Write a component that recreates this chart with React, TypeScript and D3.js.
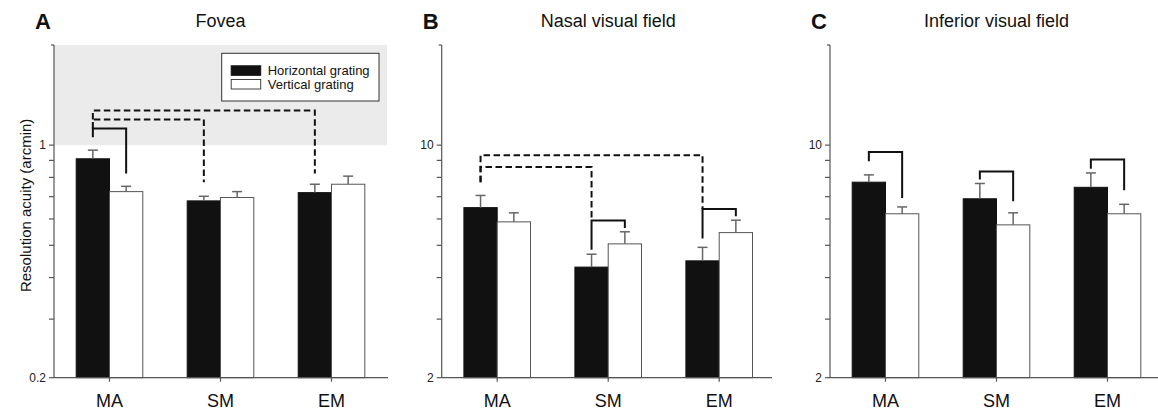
import React, { useEffect, useRef } from 'react';
import * as d3 from 'd3';

const WIDTH = 1158;
const HEIGHT = 410;
const TOP = 45;
const BOTTOM = 377.7;
const FONT = '"Liberation Sans", Arial, sans-serif';

const CATEGORIES = ['MA', 'SM', 'EM'];
const SERIES = ['Horizontal grating', 'Vertical grating'];

// [horizontal, vertical] per category, arcmin
const FOVEA_MEAN = [[0.91, 0.725], [0.68, 0.696], [0.72, 0.763]];
const FOVEA_ERR = [[0.966, 0.752], [0.702, 0.725], [0.763, 0.807]];
const NASAL_MEAN = [[6.49, 5.88], [4.3, 5.05], [4.49, 5.46]];
const NASAL_ERR = [[7.06, 6.26], [4.7, 5.49], [4.93, 5.95]];
const INFERIOR_MEAN = [[7.74, 6.22], [6.9, 5.76], [7.47, 6.22]];
const INFERIOR_ERR = [[8.14, 6.52], [7.67, 6.26], [8.25, 6.64]];

// significance brackets: from cat/series, to cat/series, top, left end, right end, dashed
type Bracket = [string, number, string, number, number, number, number, boolean];
const FOVEA_BRACKETS: Bracket[] = [
  ['MA', 0, 'MA', 1, 1.123, 1.057, 0.822, false],
  ['MA', 0, 'SM', 0, 1.195, 1.123, 0.774, true],
  ['MA', 0, 'EM', 0, 1.272, 1.195, 0.822, true],
];
const NASAL_BRACKETS: Bracket[] = [
  ['MA', 0, 'EM', 0, 9.33, 7.74, 6.43, true],
  ['MA', 0, 'SM', 0, 8.59, 7.74, 5.94, true],
  ['SM', 0, 'SM', 1, 5.94, 4.85, 5.64, false],
  ['EM', 0, 'EM', 1, 6.43, 5.24, 6.11, false],
];
const INFERIOR_BRACKETS: Bracket[] = [
  ['MA', 0, 'MA', 1, 9.53, 8.95, 6.94, false],
  ['SM', 0, 'SM', 1, 8.33, 7.88, 6.78, false],
  ['EM', 0, 'EM', 1, 9.06, 8.49, 7.32, false],
];

interface Panel {
  letter: string;
  title: string;
  left: number;
  axisRight: number;
  domain: [number, number];
  labelTicks: number[];
  minorTicks: number[];
  mean: number[][];
  err: number[][];
  brackets: Bracket[];
  shade?: [number, number];
  legend?: boolean;
}

const PANELS: Panel[] = [
  {
    letter: 'A', title: 'Fovea', left: 54, axisRight: 388, domain: [0.2, 2],
    labelTicks: [0.2, 1], minorTicks: [0.3, 0.4, 0.5, 0.6, 0.7, 0.8, 0.9],
    mean: FOVEA_MEAN, err: FOVEA_ERR, brackets: FOVEA_BRACKETS, shade: [1, 2], legend: true,
  },
  {
    letter: 'B', title: 'Nasal visual field', left: 441.7, axisRight: 772, domain: [2, 20],
    labelTicks: [2, 10], minorTicks: [3, 4, 5, 6, 7, 8, 9],
    mean: NASAL_MEAN, err: NASAL_ERR, brackets: NASAL_BRACKETS,
  },
  {
    letter: 'C', title: 'Inferior visual field', left: 830, axisRight: 1158, domain: [2, 20],
    labelTicks: [2, 10], minorTicks: [3, 4, 5, 6, 7, 8, 9],
    mean: INFERIOR_MEAN, err: INFERIOR_ERR, brackets: INFERIOR_BRACKETS,
  },
];

const App: React.FC = () => {
  const svgRef = useRef<SVGSVGElement>(null);

  useEffect(() => {
    if (!svgRef.current) return;
    const svg = d3.select(svgRef.current);
    svg.selectAll('*').remove();

    PANELS.forEach(p => {
      const g = svg.append('g');
      const x = d3.scaleBand<string>()
        .domain(CATEGORIES)
        .range([p.left, p.left + 333])
        .paddingInner(0.4)
        .paddingOuter(0.2);
      const xs = d3.scaleBand<number>()
        .domain(d3.range(SERIES.length))
        .range([0, x.bandwidth()]);
      const y = d3.scaleLog().domain(p.domain).range([BOTTOM, TOP]);
      const cx = (cat: string, s: number) => (x(cat) as number) + (xs(s) as number) + xs.bandwidth() / 2;

      if (p.shade) {
        g.append('rect')
          .attr('x', p.left)
          .attr('y', y(p.shade[1]))
          .attr('width', p.axisRight - p.left - 1)
          .attr('height', y(p.shade[0]) - y(p.shade[1]))
          .attr('fill', '#ebebeb');
      }

      // bars
      CATEGORIES.forEach((cat, ci) => {
        SERIES.forEach((_, si) => {
          const v = p.mean[ci][si];
          const bx = (x(cat) as number) + (xs(si) as number);
          g.append('rect')
            .attr('x', bx)
            .attr('y', y(v))
            .attr('width', xs.bandwidth())
            .attr('height', BOTTOM - y(v))
            .attr('fill', si === 0 ? '#111' : '#fff')
            .attr('stroke', si === 0 ? '#111' : '#555')
            .attr('stroke-width', 1);
          const e = p.err[ci][si];
          const c = bx + xs.bandwidth() / 2;
          g.append('line')
            .attr('x1', c).attr('x2', c)
            .attr('y1', y(v)).attr('y2', y(e))
            .attr('stroke', '#666').attr('stroke-width', 1.5);
          g.append('line')
            .attr('x1', c - 5).attr('x2', c + 5)
            .attr('y1', y(e)).attr('y2', y(e))
            .attr('stroke', '#666').attr('stroke-width', 1.5);
        });
      });

      // y axis
      g.append('line')
        .attr('x1', p.left).attr('x2', p.left)
        .attr('y1', TOP).attr('y2', BOTTOM)
        .attr('stroke', '#555').attr('stroke-width', 1.2);
      [...p.labelTicks, ...p.minorTicks].forEach(t => {
        g.append('line')
          .attr('x1', p.left - 5).attr('x2', p.left)
          .attr('y1', y(t)).attr('y2', y(t))
          .attr('stroke', '#555').attr('stroke-width', 1.2);
      });
      g.append('line')
        .attr('x1', p.left - 3).attr('x2', p.left)
        .attr('y1', TOP).attr('y2', TOP)
        .attr('stroke', '#555').attr('stroke-width', 1.2);
      p.labelTicks.forEach(t => {
        g.append('text')
          .attr('x', p.left - 8)
          .attr('y', y(t))
          .attr('dy', '0.35em')
          .attr('text-anchor', 'end')
          .attr('font-size', 12)
          .attr('font-family', FONT)
          .attr('fill', '#222')
          .text(String(t));
      });

      // x axis
      g.append('line')
        .attr('x1', p.left).attr('x2', p.axisRight)
        .attr('y1', BOTTOM).attr('y2', BOTTOM)
        .attr('stroke', '#555').attr('stroke-width', 1.2);
      CATEGORIES.forEach(cat => {
        const c = (x(cat) as number) + x.bandwidth() / 2;
        g.append('line')
          .attr('x1', c).attr('x2', c)
          .attr('y1', BOTTOM).attr('y2', BOTTOM + 4)
          .attr('stroke', '#555').attr('stroke-width', 1.2);
        g.append('text')
          .attr('x', c)
          .attr('y', 407)
          .attr('text-anchor', 'middle')
          .attr('font-size', 18)
          .attr('font-family', FONT)
          .attr('fill', '#111')
          .text(cat);
      });

      // brackets
      p.brackets.forEach(([c1, s1, c2, s2, top, lEnd, rEnd, dashed]) => {
        const x1 = cx(c1, s1);
        const x2 = cx(c2, s2);
        const path = d3.path();
        path.moveTo(x1, y(lEnd));
        path.lineTo(x1, y(top));
        path.lineTo(x2, y(top));
        path.lineTo(x2, y(rEnd));
        g.append('path')
          .attr('d', path.toString())
          .attr('fill', 'none')
          .attr('stroke', '#111')
          .attr('stroke-width', 2)
          .attr('stroke-dasharray', dashed ? '6.5,3.5' : null);
      });

      // titles
      g.append('text')
        .attr('x', p.left + 333 / 2)
        .attr('y', 27)
        .attr('text-anchor', 'middle')
        .attr('font-size', 18)
        .attr('font-family', FONT)
        .attr('fill', '#111')
        .text(p.title);
      g.append('text')
        .attr('x', p.left - 19)
        .attr('y', 29)
        .attr('font-size', 22)
        .attr('font-weight', 'bold')
        .attr('font-family', FONT)
        .attr('fill', '#111')
        .text(p.letter);

      if (p.legend) {
        const lg = g.append('g').attr('transform', 'translate(221.7,53.3)');
        lg.append('rect')
          .attr('width', 157.3).attr('height', 47.7)
          .attr('fill', '#fff').attr('stroke', '#333').attr('stroke-width', 1);
        SERIES.forEach((name, i) => {
          lg.append('rect')
            .attr('x', 9.5).attr('y', 12.5 + i * 13.7)
            .attr('width', 29.5).attr('height', 9.5)
            .attr('fill', i === 0 ? '#111' : '#fff')
            .attr('stroke', i === 0 ? '#111' : '#444')
            .attr('stroke-width', 1);
          lg.append('text')
            .attr('x', 46)
            .attr('y', 21.7 + i * 13.7)
            .attr('font-size', 13)
            .attr('font-family', FONT)
            .attr('fill', '#111')
            .text(name);
        });
      }
    });

    svg.append('text')
      .attr('transform', `translate(31,${(TOP + BOTTOM) / 2 - 6}) rotate(-90)`)
      .attr('text-anchor', 'middle')
      .attr('font-size', 15)
      .attr('font-family', FONT)
      .attr('fill', '#111')
      .text('Resolution acuity (arcmin)');
  }, []);

  return (
    <svg
      ref={svgRef}
      width={WIDTH}
      height={HEIGHT}
      style={{ position: 'absolute', left: 0, top: 0, background: '#fff' }}
    />
  );
};

export default App;
